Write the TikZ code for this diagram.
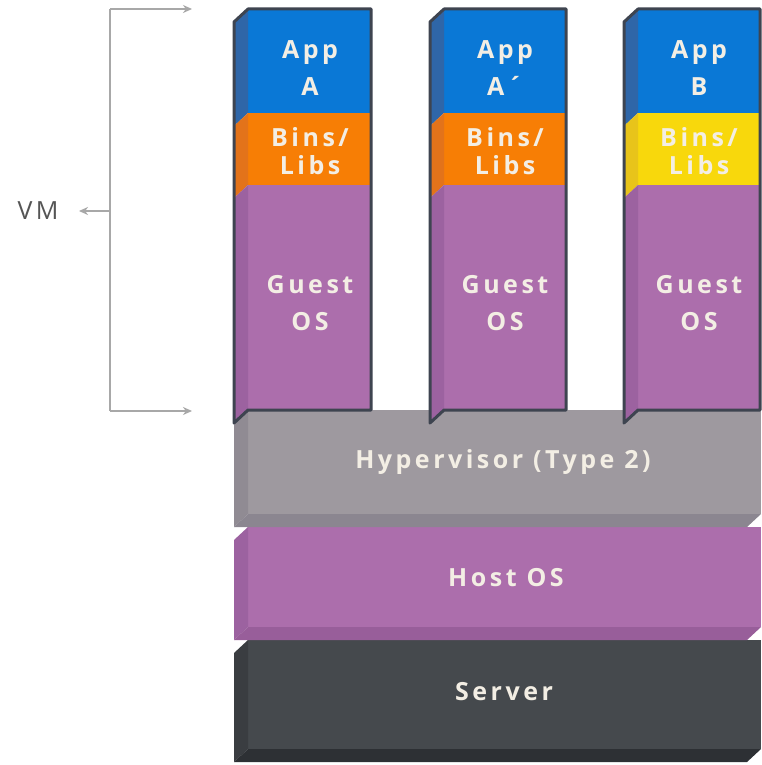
\documentclass[tikz,border=0pt]{standalone}
\usepackage{fontspec}
\setmainfont{Open Sans}[LetterSpace=14]
\usetikzlibrary{arrows.meta}
\definecolor{blueF}{HTML}{0A78D6}
\definecolor{blueS}{HTML}{2F66A8}
\definecolor{orangeF}{HTML}{F77E05}
\definecolor{orangeS}{HTML}{E3731A}
\definecolor{yellowF}{HTML}{F8D80C}
\definecolor{yellowS}{HTML}{E8C41A}
\definecolor{purpF}{HTML}{AC6EAC}
\definecolor{purpS}{HTML}{9C62A0}
\definecolor{purpB}{HTML}{985E9A}
\definecolor{hypF}{HTML}{9E999F}
\definecolor{hypS}{HTML}{908B93}
\definecolor{hypB}{HTML}{8B8690}
\definecolor{srvF}{HTML}{45494D}
\definecolor{srvS}{HTML}{3A3D41}
\definecolor{srvB}{HTML}{2D3034}
\definecolor{outl}{HTML}{3E4450}
\definecolor{txt}{HTML}{F3EEE4}
\definecolor{brk}{HTML}{A8A8A8}
\definecolor{vmtxt}{HTML}{555555}
\newcommand\slab[7]{%
  \fill[#5] (#1+14,#3) rectangle (#2,#4-13);
  \fill[#6] (#1+14,#3) -- (#1+14,#4-13) -- (#1,#4) -- (#1,#3+13) -- cycle;
  \fill[#7] (#1+14,#4-13) -- (#2,#4-13) -- (#2-14,#4) -- (#1,#4) -- cycle;
}
\newcommand\vmcolumn[4]{%
  \fill[blueF] (#1+14,9) rectangle (#2,113);
  \fill[blueS] (#1+14,9) -- (#1+14,113) -- (#1,126) -- (#1,22) -- cycle;
  \fill[#3] (#1+14,113) rectangle (#2,185);
  \fill[#4] (#1+14,113) -- (#1+14,185) -- (#1,198) -- (#1,126) -- cycle;
  \fill[purpF] (#1+14,185) rectangle (#2,410);
  \fill[purpS] (#1+14,185) -- (#1+14,410) -- (#1,423) -- (#1,198) -- cycle;
  \draw[outl, line width=3pt, line join=round] (#1,22) -- (#1+14,9) -- (#2,9) -- (#2,410) -- (#1+14,410) -- (#1,423) -- cycle;
}
\tikzset{
  lbl/.style={text=txt, font=\fontsize{25}{37}\selectfont\bfseries, align=center, inner sep=0pt},
  lbltight/.style={lbl, font=\fontsize{25}{28}\selectfont\bfseries},
  brline/.style={draw=brk, line width=1.5pt},
  brarrow/.style={brline, -{Stealth[length=9pt, width=8pt]}},
}
\begin{document}
\begin{tikzpicture}[x=1pt,y=-1pt]
\useasboundingbox (0,0) rectangle (761,765);
\fill[white] (0,0) rectangle (761,765);

% lower slabs
\slab{234}{761}{640}{762}{srvF}{srvS}{srvB}
\slab{234}{761}{527}{640}{purpF}{purpS}{purpB}
\slab{234}{761}{410}{527}{hypF}{hypS}{hypB}

% VM columns
\vmcolumn{234}{371}{orangeF}{orangeS}
\vmcolumn{430}{566}{orangeF}{orangeS}
\vmcolumn{624}{760}{yellowF}{yellowS}

% labels
\node[lbl] (appA) at (310,68) {App\\A};
\node[lbltight] (libA) at (310,151) {Bins/\\Libs};
\node[lbl] (osA) at (310,303) {Guest\\OS};
\node[lbl] (appA2) at (505,68) {App\\A´};
\node[lbltight] (libA2) at (505,151) {Bins/\\Libs};
\node[lbl] (osA2) at (505,303) {Guest\\OS};
\node[lbl] (appB) at (699,68) {App\\B};
\node[lbltight] (libB) at (699,151) {Bins/\\Libs};
\node[lbl] (osB) at (699,303) {Guest\\OS};
\node[lbl] (hyp) at (503,462) {Hypervisor (Type 2)};
\node[lbl] (host) at (506,578) {Host OS};
\node[lbl] (srv) at (504,692) {Server};

% VM bracket
\node[text=vmtxt, font=\fontsize{25}{28}\selectfont, inner sep=0pt] (vm) at (38,211) {VM};
\coordinate (btop) at (110,9);
\coordinate (bbot) at (110,411);
\coordinate (bmid) at (110,211);
\coordinate (ttop) at (192,9);
\coordinate (tbot) at (192,411);
\coordinate (tmid) at (79,211);
\draw[brline] (btop) -- (bbot);
\draw[brarrow] (btop) -- (ttop);
\draw[brarrow] (bbot) -- (tbot);
\draw[brarrow] (bmid) -- (tmid);
\end{tikzpicture}
\end{document}
